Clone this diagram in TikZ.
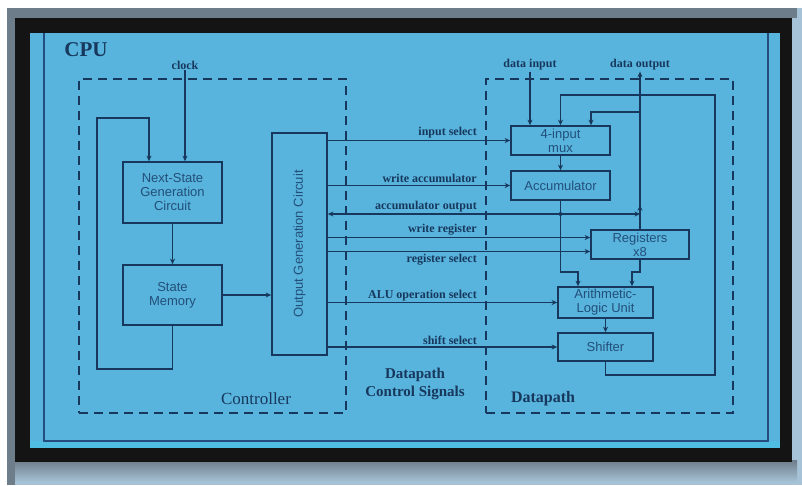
\documentclass[tikz,border=0pt]{standalone}
\usepackage{fontspec}
\setmainfont{Liberation Serif}
\newfontfamily\boxfont{Liberation Sans}
\usetikzlibrary{arrows.meta,calc}
\definecolor{panel}{HTML}{58B3DD}
\definecolor{panelband}{HTML}{50BEE2}
\definecolor{ink}{HTML}{17385C}
\definecolor{boxink}{HTML}{22507A}
\definecolor{cpuline}{HTML}{244C7E}
\definecolor{framegray}{HTML}{6E7D8A}
\definecolor{paleedge}{HTML}{A6C2D6}
\tikzset{
  blk/.style={draw=ink, line width=1.7pt, inner sep=0pt, align=center,
    font=\boxfont\fontsize{13}{14}\selectfont, text=boxink},
  boxtext/.style={inner sep=0pt, font=\boxfont\fontsize{13}{14}\selectfont, text=boxink},
  sig/.style={font=\bfseries\fontsize{12}{14}\selectfont, text=ink, inner sep=1pt},
  wire/.style={draw=ink, line width=1.6pt},
  tip/.tip={Stealth[length=5.5pt,width=5pt]},
  arr/.style={wire, -tip},
  region/.style={draw=ink, line width=2pt, dash pattern=on 9pt off 6pt, inner sep=0pt},
  jdot/.style={circle, fill=ink, inner sep=0pt, minimum size=4pt},
}
\begin{document}
\begin{tikzpicture}[x=1pt,y=-1pt]
\useasboundingbox (0,0) rectangle (802,485);

% ---- frame around the panel ----
\fill[white] (0,0) rectangle (802,485);
\fill[paleedge] (7,8) rectangle (802,485);
\fill[framegray] (7,8) rectangle (797,18);
\fill[framegray] (7,8) rectangle (15,485);
\shade[top color=framegray, bottom color=paleedge] (15,460) rectangle (797,482);
\fill[black!92] (15,18) rectangle (792,462);
\fill[panel] (30,33) rectangle (780,448);
\fill[panelband] (30,441) rectangle (780,448);
\draw[cpuline, line width=1.5pt] (44,33) -- (44,441) -- (768,441) -- (768,33);

\node[font=\bfseries\fontsize{21}{24}\selectfont, text=ink] (cpu) at (86,50) {CPU};

% ---- regions ----
\node[region, minimum width=267pt, minimum height=334pt] (ctrl) at (212.5,246) {};
\node[region, minimum width=247pt, minimum height=334pt] (dp) at (609.5,246) {};
\node[font=\fontsize{17}{20}\selectfont, text=ink] (ctrlLbl) at (256,399) {Controller};
\node[font=\bfseries\fontsize{16}{19}\selectfont, text=ink] (dpLbl) at (543,399) {Datapath};
\node[font=\bfseries\fontsize{15}{18}\selectfont, text=ink, align=center] (dcsLbl) at (415,384) {Datapath\\Control Signals};

% ---- controller blocks ----
\node[blk, minimum width=99pt, minimum height=61pt] (nsg) at (172.5,192.5) {Next-State\\Generation\\Circuit};
\node[blk, minimum width=99pt, minimum height=60pt] (sm) at (172.5,295) {State\\Memory};
\node[blk, minimum width=55pt, minimum height=222pt] (ogc) at (299.5,244) {};
\node[boxtext, rotate=90] (ogcTxt) at (ogc.center) {Output Generation Circuit};

\node[sig] (clk) at (185,65) {clock};
\draw[arr] (clk.south) -- (clk.south |- nsg.north);
\draw[arr] (nsg.south) -- (sm.north);
\draw[arr] (sm.east) -- (sm.east -| ogc.west);
\coordinate (fbA) at (97,369);
\coordinate (fbB) at (149,118);
\draw[arr] (sm.south) |- (fbA) |- (fbB) -- (fbB |- nsg.north);

% ---- datapath blocks ----
\node[blk, minimum width=99pt, minimum height=29pt] (mux) at (560.5,140.5) {4-input\\mux};
\node[blk, minimum width=99pt, minimum height=29pt] (acc) at (560.5,185.5) {Accumulator};
\node[blk, minimum width=98pt, minimum height=29pt] (regs) at (640,244.5) {Registers\\x8};
\node[blk, minimum width=95pt, minimum height=31pt] (alu) at (605.5,302.5) {Arithmetic-\\Logic Unit};
\node[blk, minimum width=95pt, minimum height=28pt] (sh) at (605.5,347) {Shifter};

\node[sig] (din) at (530,65) {data input};
\node[sig] (dout) at (640,65) {data output};
\draw[arr] (din.south) -- (din.south |- mux.north);

% register file to data output, with a branch back into the mux
\draw[arr] (regs.north) -- ($(regs.north)+(0,-24)$);
\draw[arr] (regs.north) -- (dout.south);
\coordinate (br) at (640,112);
\draw[arr] (br) -| ([xshift=30.5pt]mux.north);

% shifter result loops back to the mux
\coordinate (lpB) at (715,375);
\coordinate (lpT) at (560.5,95);
\draw[arr] (sh.south) |- (lpB) |- (lpT) -- (mux.north);

\draw[arr] (mux.south) -- (acc.north);
\coordinate (aluL) at (578,272);
\coordinate (aluR) at (632,272);
\draw[arr] (acc.south) |- (aluL) -- (aluL |- alu.north);
\draw[arr] (regs.south) |- (aluR) -- (aluR |- alu.north);
\draw[arr] (alu.south) -- (sh.north);

% ---- control signals ----
\coordinate (accOut) at (640,214);
\draw[wire, tip-tip] (ogc.east |- accOut) -- (accOut);
\node[jdot] (accJ) at (acc.south |- accOut) {};

\draw[arr] (ogc.east |- mux.west) -- (mux.west);
\draw[arr] (ogc.east |- acc.west) -- (acc.west);
\coordinate (wrReg) at ($(regs.west)+(0,-7)$);
\coordinate (selReg) at ($(regs.west)+(0,7)$);
\draw[arr] (ogc.east |- wrReg) -- (wrReg);
\draw[arr] (ogc.east |- selReg) -- (selReg);
\draw[arr] (ogc.east |- alu.west) -- (alu.west);
\draw[arr] (ogc.east |- sh.west) -- (sh.west);

\node[sig, anchor=south east] (lInSel) at (478,139) {input select};
\node[sig, anchor=south east] (lWrAcc) at (478,184) {write accumulator};
\node[sig, anchor=south east] (lAccOut) at (478,213) {accumulator output};
\node[sig, anchor=south east] (lWrReg) at (478,236) {write register};
\node[sig, anchor=north east] (lRegSel) at (478,253) {register select};
\node[sig, anchor=south east] (lAluOp) at (478,302) {ALU operation select};
\node[sig, anchor=south east] (lShSel) at (478,346) {shift select};
\end{tikzpicture}
\end{document}
